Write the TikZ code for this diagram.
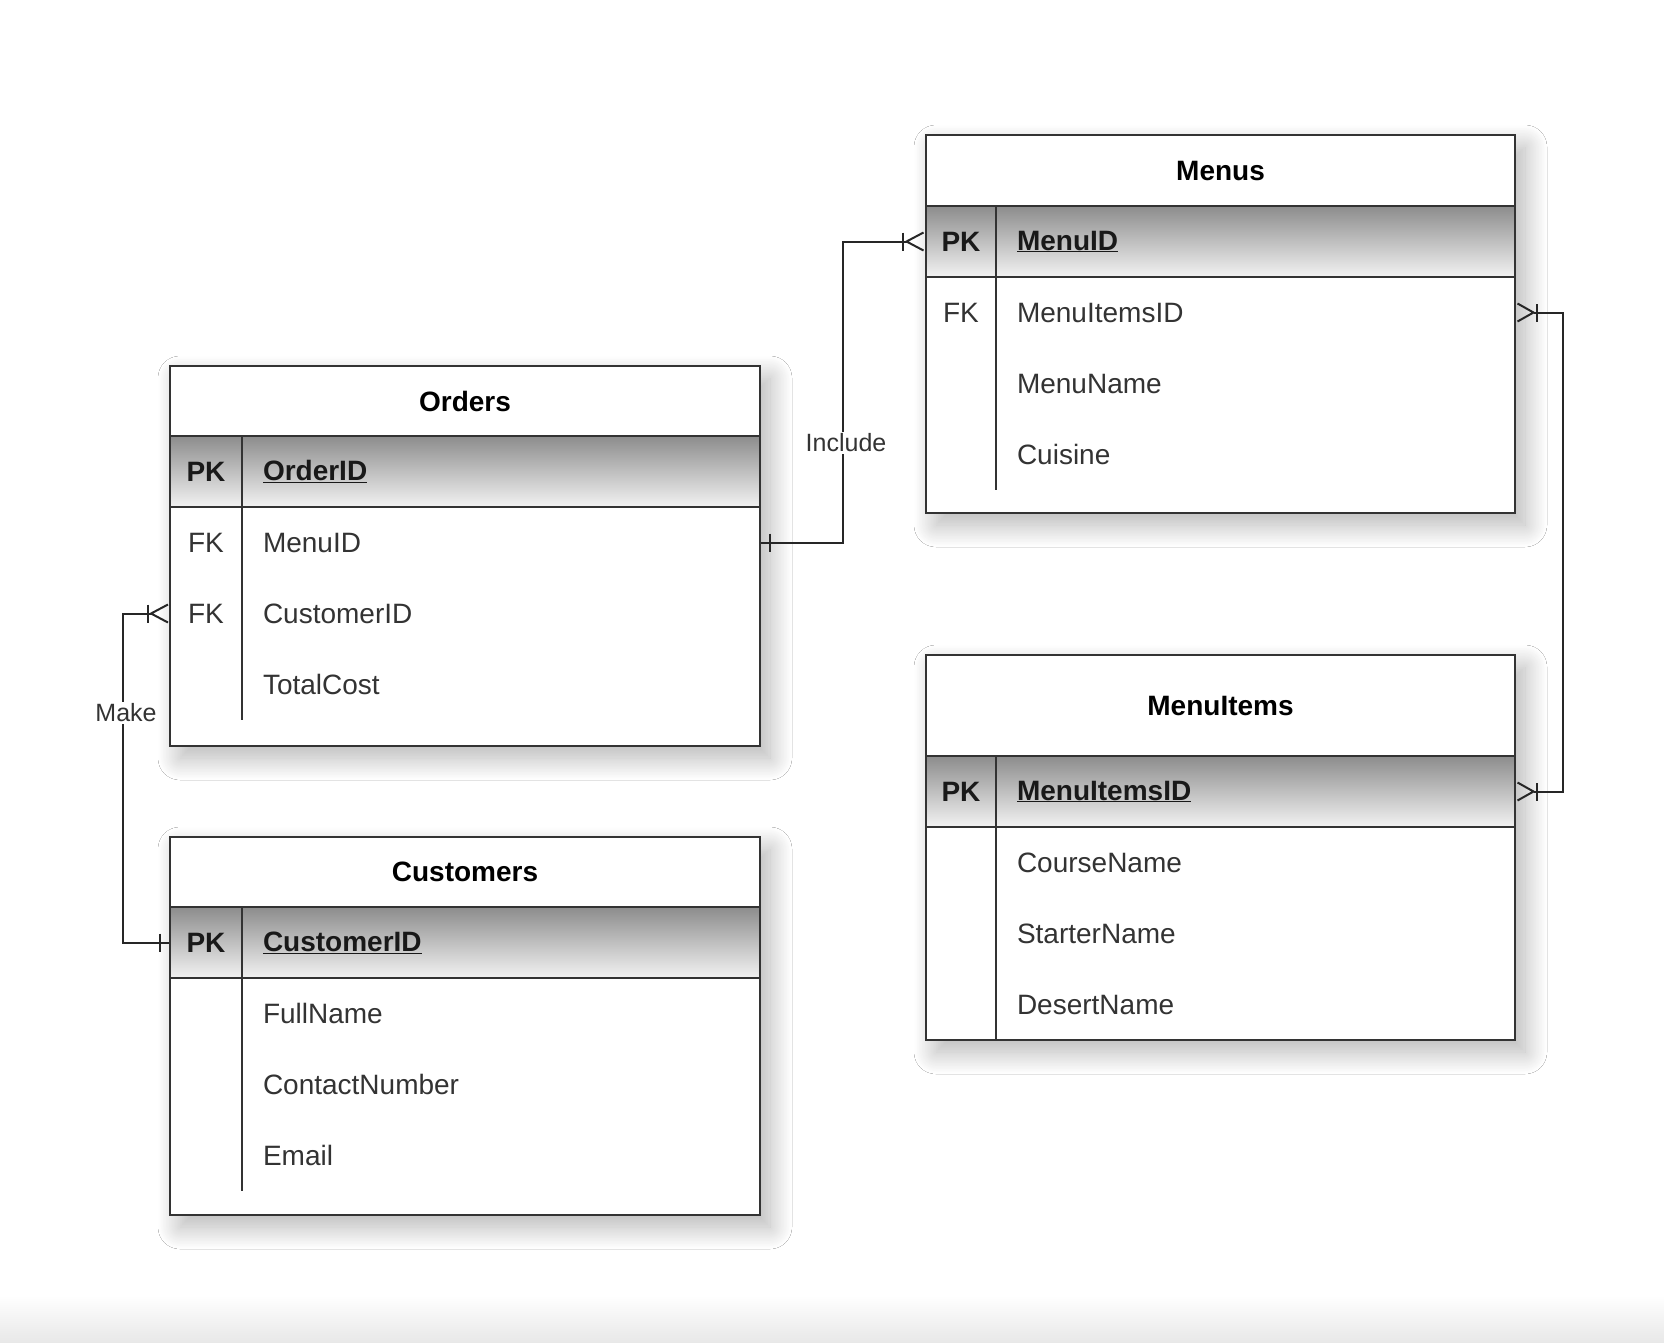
\documentclass[tikz,border=0pt]{standalone}
\usepackage{fontspec}
\setmainfont{Liberation Sans}
\usetikzlibrary{arrows.meta,shadows.blur}
\tikzset{every picture/.style={line width=2pt}}
\tikzset{
  tablebox/.style={draw=black!80, fill=white, line width=2.2pt,
    blur shadow={shadow xshift=10pt, shadow yshift=-12pt, shadow blur radius=22pt, shadow blur steps=30, shadow opacity=30}},
  pkshade/.style={top color=black!45, bottom color=black!5},
  rule/.style={draw=black!80, line width=2.2pt},
  titletext/.style={font=\fontsize{28}{32}\selectfont\bfseries, inner sep=0pt},
  keytext/.style={font=\fontsize{28}{32}\selectfont, text=black!80, inner sep=0pt},
  pkkey/.style={keytext, font=\fontsize{28}{32}\selectfont\bfseries, text=black!90},
  fieldtext/.style={font=\fontsize{28}{32}\selectfont, text=black!80, anchor=west, inner sep=0pt},
  pkfield/.style={fieldtext, font=\fontsize{28}{32}\selectfont\bfseries, text=black!90},
  rowcell/.style={minimum width=590pt, minimum height=71pt, inner sep=0pt, draw=none},
  rel/.style={draw=black!85, line width=2pt},
  rellabel/.style={fill=white, font=\fontsize{25}{28}\selectfont, text=black!80, inner sep=1.5pt},
}

\begin{document}
\begin{tikzpicture}[x=1pt,y=1pt,yscale=-1,xscale=1]
	\useasboundingbox (0,0) rectangle (1664,1342);
	\fill[white] (0,0) rectangle (1664,1342);
	%Shape: bottom band
	\shade[top color=white, bottom color=black!9] (0,1295) rectangle (1664,1342);

	%Table: Orders
	\draw[tablebox] (170,366) rectangle (760,746);
	\shade[pkshade] (170,436) rectangle (760,507);
	\draw[rule] (170,436) -- (760,436) (170,507) -- (760,507) (242,436) -- (242,720);
	\draw[rule] (170,366) rectangle (760,746);
	\node[titletext] (orders) at (465,401) {Orders};
	\node[rowcell] (ord-pk) at (465,471.5) {};
	\node[pkkey] (ord-pk-key) at (206,471.5) {PK};
	\node[pkfield] (ord-pk-name) at (262,471.5) {\underline{OrderID}};
	\foreach \n/\y/\k/\f in {ord-menuid/542.5/FK/MenuID, ord-custid/613.5/FK/CustomerID, ord-cost/684.5//TotalCost} {
		\node[rowcell] (\n) at (465,\y) {};
		\node[keytext] (\n-key) at (206,\y) {\k};
		\node[fieldtext] (\n-name) at (262,\y) {\f};
	}

	%Table: Customers
	\draw[tablebox] (170,837) rectangle (760,1215);
	\shade[pkshade] (170,907) rectangle (760,978);
	\draw[rule] (170,907) -- (760,907) (170,978) -- (760,978) (242,907) -- (242,1191);
	\draw[rule] (170,837) rectangle (760,1215);
	\node[titletext] (customers) at (465,872) {Customers};
	\node[rowcell] (cus-pk) at (465,942.5) {};
	\node[pkkey] (cus-pk-key) at (206,942.5) {PK};
	\node[pkfield] (cus-pk-name) at (262,942.5) {\underline{CustomerID}};
	\foreach \n/\y/\f in {cus-name/1013.5/FullName, cus-phone/1084.5/ContactNumber, cus-email/1155.5/Email} {
		\node[rowcell] (\n) at (465,\y) {};
		\node[fieldtext] (\n-name) at (262,\y) {\f};
	}

	%Table: Menus
	\draw[tablebox] (926,135) rectangle (1515,513);
	\shade[pkshade] (926,206) rectangle (1515,277);
	\draw[rule] (926,206) -- (1515,206) (926,277) -- (1515,277) (996,206) -- (996,490);
	\draw[rule] (926,135) rectangle (1515,513);
	\node[titletext] (menus) at (1220.5,170.5) {Menus};
	\node[rowcell] (men-pk) at (1220.5,241.5) {};
	\node[pkkey] (men-pk-key) at (961,241.5) {PK};
	\node[pkfield] (men-pk-name) at (1016,241.5) {\underline{MenuID}};
	\foreach \n/\y/\k/\f in {men-itemsid/312.5/FK/MenuItemsID, men-name/383.5//MenuName, men-cuisine/454.5//Cuisine} {
		\node[rowcell] (\n) at (1220.5,\y) {};
		\node[keytext] (\n-key) at (961,\y) {\k};
		\node[fieldtext] (\n-name) at (1016,\y) {\f};
	}

	%Table: MenuItems
	\draw[tablebox] (926,655) rectangle (1515,1040);
	\shade[pkshade] (926,756) rectangle (1515,827);
	\draw[rule] (926,756) -- (1515,756) (926,827) -- (1515,827) (996,756) -- (996,1040);
	\draw[rule] (926,655) rectangle (1515,1040);
	\node[titletext] (menuitems) at (1220.5,705.5) {MenuItems};
	\node[rowcell] (mit-pk) at (1220.5,791.5) {};
	\node[pkkey] (mit-pk-key) at (961,791.5) {PK};
	\node[pkfield] (mit-pk-name) at (1016,791.5) {\underline{MenuItemsID}};
	\foreach \n/\y/\f in {mit-course/862.5/CourseName, mit-starter/933.5/StarterName, mit-desert/1004.5/DesertName} {
		\node[rowcell] (\n) at (1220.5,\y) {};
		\node[fieldtext] (\n-name) at (1016,\y) {\f};
	}

	%Relation: Include
	\draw[rel, -{Bar[width=18pt] Straight Barb[reversed, length=17pt, width=18pt]}] (ord-menuid.east) -- ++(82,0) |- (men-pk.west);
	\draw[rel] ([xshift=9pt]ord-menuid.east) ++(0,-9) -- ++(0,18);
	\node[rellabel] (include) at (846,443) {Include};

	%Relation: Make
	\draw[rel, {Straight Barb[reversed, length=17pt, width=18pt] Bar[width=18pt]}-] (ord-custid.west) -- ++(-46,0) |- (cus-pk.west);
	\draw[rel] ([xshift=-9pt]cus-pk.west) ++(0,-9) -- ++(0,18);
	\node[rellabel] (make) at (126,713) {Make};

	%Relation: Menus -- MenuItems
	\draw[rel, {Straight Barb[reversed, length=16pt, width=18pt] Bar[width=18pt]}-{Bar[width=18pt] Straight Barb[reversed, length=16pt, width=18pt]}] (men-itemsid.east) -- ++(46,0) |- (mit-pk.east);
\end{tikzpicture}
\end{document}
